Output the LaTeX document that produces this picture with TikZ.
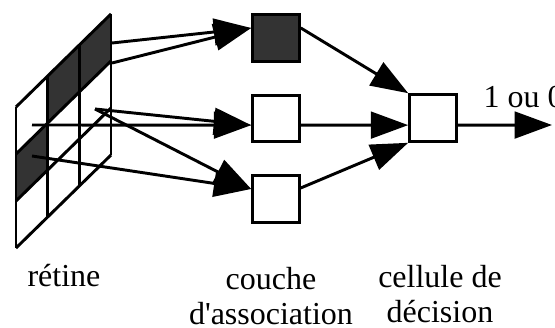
\documentclass[tikz,border=0pt]{standalone}
\usepackage{fontspec}
\setmainfont{Liberation Serif}
\usetikzlibrary{arrows.meta}

\begin{document}
\begin{tikzpicture}[x=0.375pt, y=-0.375pt,
    cell/.style={draw, line width=1.1pt, minimum size=17.5pt, inner sep=0pt},
    arr/.style={line width=1.1pt, -{Triangle[length=14pt,width=10pt]}},
    lbl/.style={font=\fontsize{12pt}{13.1pt}\selectfont, align=center, inner sep=0pt}]
    \useasboundingbox (0,0) rectangle (555,328);

    % retine
    \begin{scope}[shift={(16,107)}, x={(11.875pt,11.625pt)}, y={(0pt,-17.625pt)}, line width=1.1pt]
        \foreach \i/\j in {1/0, 2/0, 0/1}
            \fill[black!80] (\i,\j) -- (\i+1,\j) -- (\i+1,\j+1) -- (\i,\j+1) -- cycle;
        \foreach \k in {0,...,3} {
            \draw (\k,0) -- (\k,3);
            \draw (0,\k) -- (3,\k);
        }
    \end{scope}
    \coordinate (r1) at (112,43);
    \coordinate (r2) at (112,63);
    \coordinate (r3) at (32,125);
    \coordinate (r4) at (95,109);
    \coordinate (r5) at (32,156);
    \coordinate (out) at (552,125);

    % couche d'association et cellule de decision
    \node[cell, fill=black!80] (assoc1) at (276,38) {};
    \node[cell] (assoc2) at (276,118.5) {};
    \node[cell] (assoc3) at (276,199) {};
    \node[cell] (decision) at (433,118) {};

    \draw[arr] (r1) -- (assoc1.158);
    \draw[arr] (r2) -- (assoc1.158);
    \draw[arr] (r3) -- (assoc2.195);
    \draw[arr] (r4) -- (assoc2.195);
    \draw[arr] (r4) -- (assoc3.158);
    \draw[arr] (r5) -- (assoc3.158);

    \draw[arr] (assoc1.22) -- (decision.north west);
    \draw[arr] (assoc2.-15) -- (decision.196);
    \draw[arr] (assoc3.24) -- (decision.south west);
    \draw[arr] (decision.-16) -- (out);

    \node[lbl, anchor=base west] (outlbl) at (483,108) {1 ou 0};
    \node[lbl, anchor=base] (retlbl) at (64,287) {rétine};
    \node[lbl, anchor=north] (assoclbl) at (271,267) {couche\\d\textquotesingle association};
    \node[lbl, anchor=north] (declbl) at (440,265) {cellule de\\décision};
\end{tikzpicture}
\end{document}
